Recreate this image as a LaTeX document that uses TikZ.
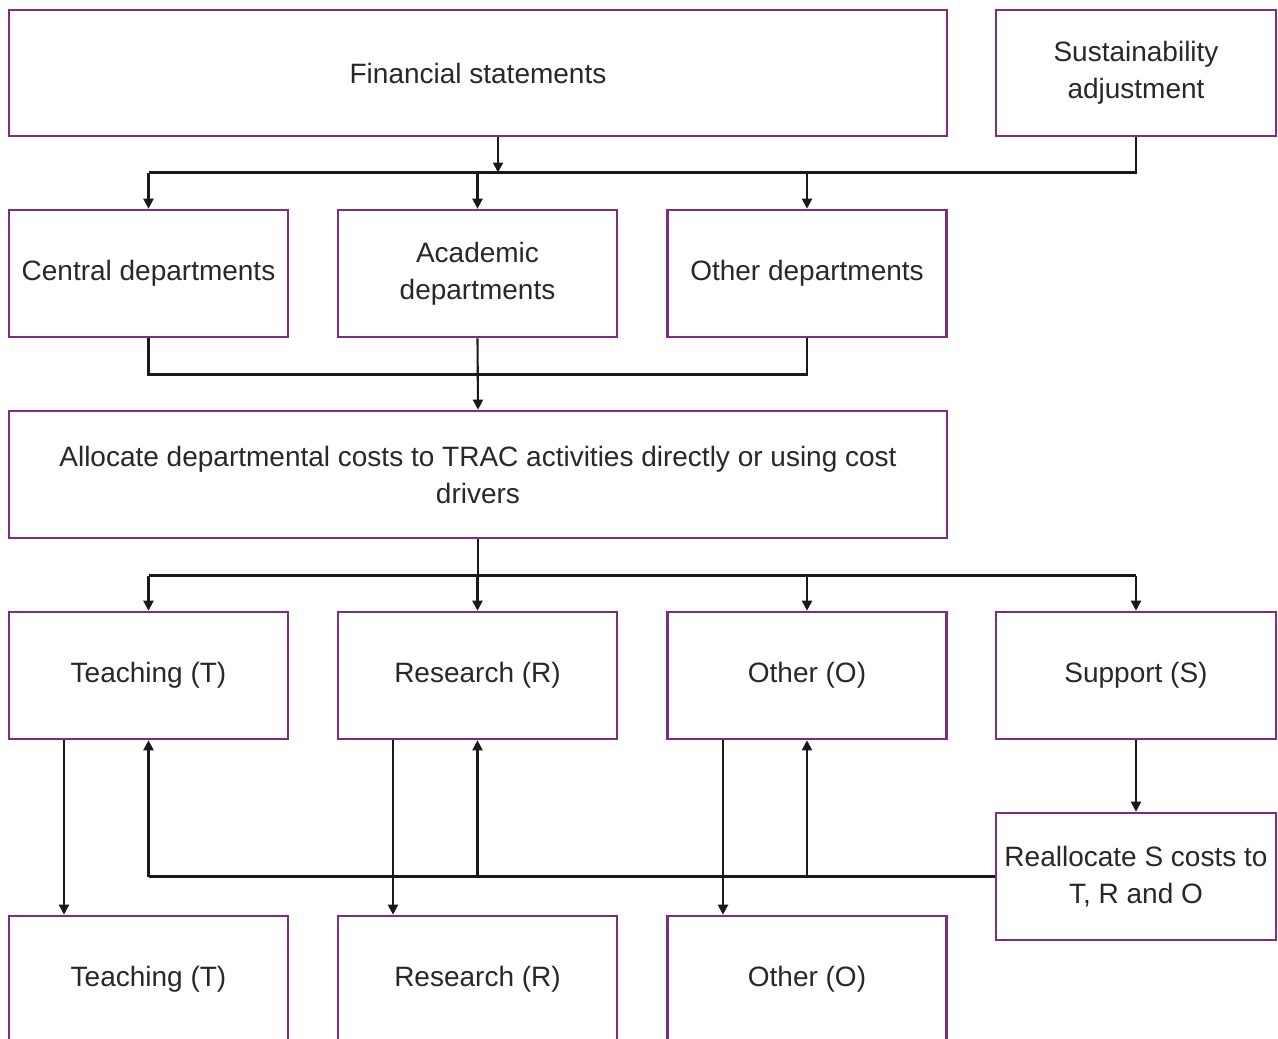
\documentclass[tikz,border=0pt]{standalone}
\usepackage{fontspec}
\setmainfont{Liberation Sans}
\usetikzlibrary{arrows.meta}
\definecolor{boxline}{RGB}{128,45,128}
\definecolor{txt}{RGB}{40,40,40}
\begin{document}
\begin{tikzpicture}[x=1pt,y=-1pt,
  box/.style={draw=boxline,line width=2.6pt,fill=white,align=center,
    text=txt,font=\fontsize{28}{37}\selectfont,inner sep=0pt},
  wbox/.style={box,minimum width=938pt,minimum height=126pt},
  sbox/.style={box,minimum width=279pt,minimum height=127pt},
  link/.style={draw=black!90,line width=2.1pt},
  arr/.style={link,-{Triangle[length=10pt,width=10pt]}}]
\useasboundingbox[fill=white] (0,0) rectangle (1278,1039);
\begin{scope}
\clip (0,0) rectangle (1278,1039);
% top row
\node[wbox] (fs) at (478,73) {Financial statements};
\node[sbox,minimum width=280pt,minimum height=126pt] (sa) at (1136,73) {Sustainability\\adjustment};
% departments
\node[sbox] (cd) at (148.5,273.5) {Central departments};
\node[sbox] (ad) at (477.5,273.5) {Academic\\departments};
\node[sbox] (od) at (807,273.5) {Other departments};
% allocation
\node[wbox,minimum height=127pt] (al) at (478,474.5) {Allocate departmental costs to TRAC activities directly or using cost\\drivers};
% activities
\node[sbox] (t1) at (148.5,675.5) {Teaching (T)};
\node[sbox] (r1) at (477.5,675.5) {Research (R)};
\node[sbox] (o1) at (807,675.5) {Other (O)};
\node[sbox,minimum width=280pt] (s1) at (1136,675.5) {Support (S)};
\node[sbox,minimum width=280pt] (re) at (1136,876.5) {Reallocate S costs to\\T, R and O};
% final activities
\node[sbox] (t2) at (148.5,979.5) {Teaching (T)};
\node[sbox] (r2) at (477.5,979.5) {Research (R)};
\node[sbox] (o2) at (807,979.5) {Other (O)};

% bus lines
\coordinate (busa) at (0,172.5);
\coordinate (busb) at (0,374.5);
\coordinate (busc) at (0,575.5);
\coordinate (busd) at (0,876.5);
\coordinate (fsout) at ([xshift=20pt]fs.south);

% statements to departments
\draw[link] (sa.south) |- (busa -| cd.north);
\draw[arr] (fsout) -- (fsout |- busa);
\draw[arr] (busa -| cd.north) -- (cd.north);
\draw[arr] (busa -| ad.north) -- (ad.north);
\draw[arr] (busa -| od.north) -- (od.north);

% departments to allocation
\draw[link] (cd.south) |- (busb -| od.south) -- (od.south);
\draw[arr] (ad.south) -- (al.north);

% allocation to activities
\draw[link] (al.south) -- (busc -| al.south);
\draw[link] (busc -| t1.north) -- (busc -| s1.north);
\draw[arr] (busc -| t1.north) -- (t1.north);
\draw[arr] (busc -| r1.north) -- (r1.north);
\draw[arr] (busc -| o1.north) -- (o1.north);
\draw[arr] (busc -| s1.north) -- (s1.north);

% support reallocation
\draw[arr] (s1.south) -- (re.north);
\draw[link] (re.west) -- (busd -| t1.south);
\draw[arr] (busd -| t1.south) -- (t1.south);
\draw[arr] (busd -| r1.south) -- (r1.south);
\draw[arr] (busd -| o1.south) -- (o1.south);

% activities to final activities
\draw[arr] ([xshift=-84.5pt]t1.south) -- ([xshift=-84.5pt]t2.north);
\draw[arr] ([xshift=-84.5pt]r1.south) -- ([xshift=-84.5pt]r2.north);
\draw[arr] ([xshift=-84pt]o1.south) -- ([xshift=-84pt]o2.north);
\end{scope}
\end{tikzpicture}
\end{document}
